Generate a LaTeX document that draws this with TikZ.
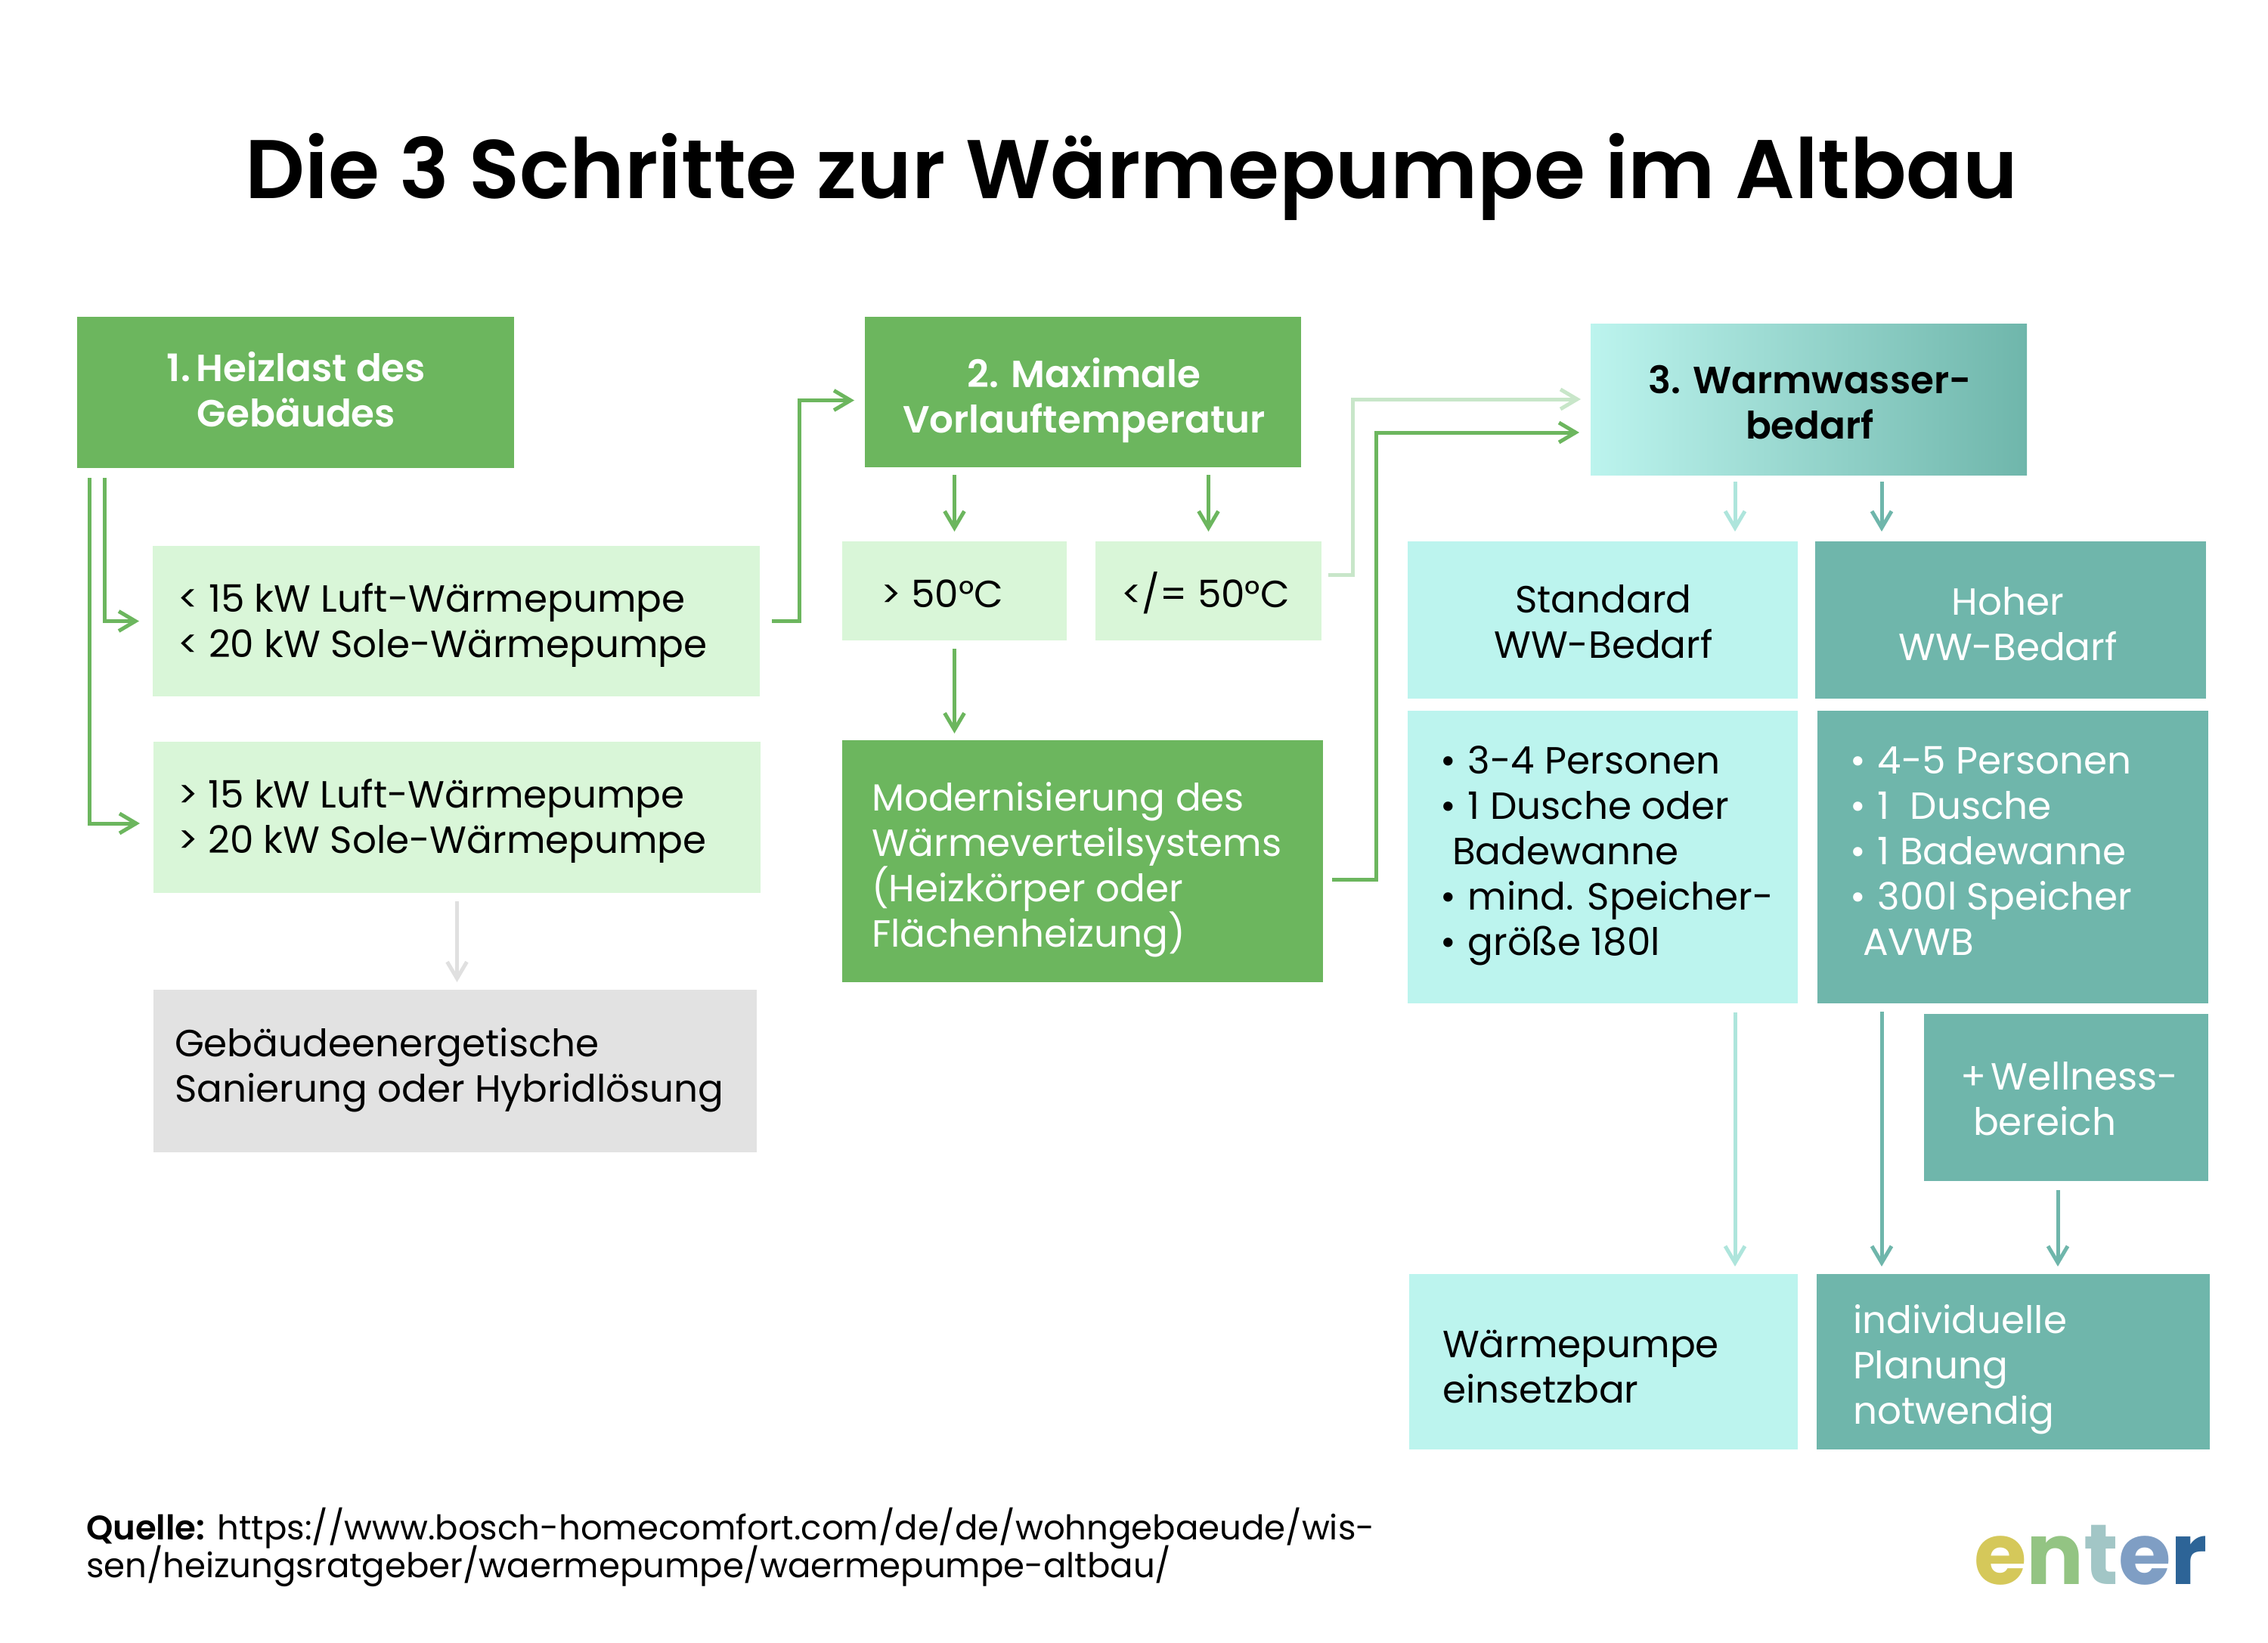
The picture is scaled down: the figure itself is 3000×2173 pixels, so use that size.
\documentclass[tikz,border=0pt]{standalone}
\usepackage{fontspec}
\setmainfont{Poppins}
\newfontfamily\psb{Poppins SemiBold}
\usetikzlibrary{arrows.meta,calc}
\definecolor{grn}{HTML}{6CB65E}
\definecolor{lgrn}{HTML}{D9F6D8}
\definecolor{aqua}{HTML}{BCF4EE}
\definecolor{teal2}{HTML}{6FB6AB}
\definecolor{gry}{HTML}{E2E2E2}
\definecolor{lconn}{HTML}{C8E6C9}
\definecolor{aconn}{HTML}{AEE5DC}
\definecolor{gconn}{HTML}{E0E0E0}
\definecolor{l1}{HTML}{D5C85A}
\definecolor{l2}{HTML}{93C483}
\definecolor{l3}{HTML}{A2C6C6}
\definecolor{l4}{HTML}{7F9EC4}
\definecolor{l5}{HTML}{2D6497}
\tikzset{
  plainbox/.style={inner sep=0pt,outer sep=0pt,font=\fontsize{25}{30}\selectfont},
  gbox/.style={plainbox,fill=grn,text=white},
  lbox/.style={plainbox,fill=lgrn,text=black},
  abox/.style={plainbox,fill=aqua,text=black},
  tbox/.style={plainbox,fill=teal2,text=white},
  greybox/.style={plainbox,fill=gry,text=black},
  gradbox/.style={plainbox,left color=aqua,right color=teal2,text=black},
  arr/.style={line width=2.5pt,-{Straight Barb[length=11pt,width=13pt,line width=2.5pt]},line join=miter},
}
\newcommand\bx[7]{%
  \pgfmathsetmacro\cx{(#3+#5)/2}\pgfmathsetmacro\cy{(#4+#6)/2}%
  \pgfmathsetmacro\bw{(#5-#3)*0.5}\pgfmathsetmacro\bh{(#6-#4)*0.5}%
  \node[#2,minimum width=\bw pt,minimum height=\bh pt] (#1) at (\cx,\cy) {#7};}
\newcommand\tl[3]{\pgfmathsetmacro\dxx{(#1-\cx)*0.5}\pgfmathsetmacro\dyy{(\cy-#2)*0.5}%
  \makebox[0pt][l]{\kern\dxx pt\raisebox{\dyy pt}[0pt][0pt]{\parbox[t]{1200pt}{\raggedright #3}}}}
\newcommand\tc[3]{\pgfmathsetmacro\dxx{(#1-\cx)*0.5-600}\pgfmathsetmacro\dyy{(\cy-#2)*0.5}%
  \makebox[0pt][l]{\kern\dxx pt\raisebox{\dyy pt}[0pt][0pt]{\parbox[t]{1200pt}{\centering #3}}}}
\newcommand\bul{\makebox[18.5pt][l]{•}}
\begin{document}
\begin{tikzpicture}[x=0.5pt,y=-0.5pt]
\useasboundingbox (0,0) rectangle (3000,2173);
\bx{title}{plainbox}{320}{150}{2680}{300}{\tc{1497}{263}{\psb\fontsize{55}{66}\selectfont Die 3 Schritte zur Wärmepumpe im Altbau}}
\bx{b1}{gbox}{102}{419}{680}{619}{\tc{392}{504}{\psb 1.\hspace{0.16em}Heizlast des\\Gebäudes}}
\bx{b2}{gbox}{1144}{419}{1721}{618}{\tc{1434}{512}{\psb 2. Maximale\\Vorlauftemperatur}}
\bx{b3}{gradbox}{2104}{428}{2681}{628}{\tc{2394}{520}{\psb 3. Warmwasser-\\bedarf}}
\bx{lt}{lbox}{202}{722}{1005}{921}{\tl{235}{809}{< 15 kW Luft-Wärmepumpe\\< 20 kW Sole-Wärmepumpe}}
\bx{gt}{lbox}{203}{981}{1006}{1181}{\tl{235}{1068}{> 15 kW Luft-Wärmepumpe\\> 20 kW Sole-Wärmepumpe}}
\bx{gray}{greybox}{203}{1309}{1001}{1524}{\tl{231}{1397}{Gebäudeenergetische\\Sanierung oder Hybridlösung}}
\bx{gfifty}{lbox}{1114}{716}{1411}{847}{\tl{1165}{803}{> 50°C}}
\bx{lfifty}{lbox}{1449}{716}{1748}{847}{\tl{1483}{803}{</= 50°C}}
\bx{mod}{gbox}{1114}{979}{1750}{1299}{\tl{1153}{1072}{Modernisierung des\\Wärmeverteilsystems\\(Heizkörper oder\\Flächenheizung)}}
\bx{std}{abox}{1862}{716}{2378}{924}{\tc{2121}{810}{Standard\\WW-Bedarf}}
\bx{hoch}{tbox}{2401}{716}{2918}{924}{\tc{2656}{813}{Hoher\\WW-Bedarf}}
\bx{stdl}{abox}{1862}{940}{2378}{1327}{\tl{1905}{1023}{\bul 3-4 Personen\\\bul 1 Dusche oder\\\hspace*{8pt}Badewanne\\\bul mind. Speicher-\\\bul größe 180l}}
\bx{hochl}{tbox}{2404}{940}{2921}{1327}{\tl{2447}{1023}{\bul 4-5 Personen\\\bul 1\ \ Dusche\\\bul 1 Badewanne\\\bul 300l Speicher\\\hspace*{8.5pt}AVWB}}
\bx{well}{tbox}{2545}{1341}{2921}{1562}{\tl{2593}{1441}{+\hspace{3.4pt}Wellness-\\\hspace*{8.5pt}bereich}}
\bx{wp}{abox}{1864}{1685}{2378}{1917}{\tl{1908}{1795}{Wärmepumpe\\einsetzbar}}
\bx{ind}{tbox}{2403}{1685}{2923}{1917}{\tl{2451}{1763}{individuelle\\Planung\\notwendig}}
\bx{quelle}{plainbox}{115}{2010}{1850}{2120}{\tl{114}{2036}{\fontsize{22.5}{25}\selectfont\lineskiplimit=-50pt{\psb Quelle:} https://www.bosch-homecomfort.com/de/de/wohngebaeude/wis-\\sen/heizungsratgeber/waermepumpe/waermepumpe-altbau/}}
\bx{logo}{plainbox}{2613}{2000}{2918}{2110}{\tl{2611}{2095}{\bfseries\fontsize{56.4}{70}\selectfont\textcolor{l1}{e}\textcolor{l2}{n}\textcolor{l3}{t}\textcolor{l4}{e}\textcolor{l5}{r}}}
% connector reference points
\coordinate (c1) at ($(b3.south)+(-48.75pt,0)$);
\coordinate (c2) at ($(b3.south)+(48.25pt,0)$);
\coordinate (c3) at ($(stdl.south)+(87.5pt,0)$);
\coordinate (c4) at ($(hochl.south)+(-86.75pt,0)$);
\coordinate (c5) at ($(well.south)+(-5.5pt,0)$);
% connectors
\draw[arr,grn] ([xshift=8pt,yshift=-6.5pt]b1.south west) |- ([xshift=-9pt,yshift=-4pt]gt.west);
\draw[arr,grn] ([xshift=18pt,yshift=-6.5pt]b1.south west) |- ([xshift=-9pt]lt.west);
\draw[arr,grn] ([xshift=8pt]lt.east) -- ++(18pt,0) |- ([xshift=-7pt,yshift=-5.5pt]b2.west);
\draw[arr,grn] ([yshift=-5pt]gfifty.north |- b2.south) -- ([yshift=6.5pt]gfifty.north);
\draw[arr,grn] ([yshift=-5pt]lfifty.north |- b2.south) -- ([yshift=6.5pt]lfifty.north);
\draw[arr,grn] ([yshift=-5.5pt]gfifty.south) -- ([yshift=4.5pt]gfifty.south |- mod.north);
\draw[arr,lconn] ([xshift=4.5pt,yshift=10.75pt]lfifty.east) -- ++(16pt,0) |- ([xshift=-6.5pt]b3.west);
\draw[arr,grn] ([xshift=6pt,yshift=-12pt]mod.east) -- ++(29pt,0) |- ([xshift=-7.5pt,yshift=-22pt]b3.west);
\draw[arr,aconn] ([yshift=-4.5pt]c1) -- ([yshift=6.5pt]c1 |- std.north);
\draw[arr,teal2] ([yshift=-4.5pt]c2) -- ([yshift=6.5pt]c2 |- hoch.north);
\draw[arr,gconn] ([yshift=-5.5pt]gt.south) -- ([yshift=5pt]gt.south |- gray.north);
\draw[arr,aconn] ([yshift=-6pt]c3) -- ([yshift=5pt]c3 |- wp.north);
\draw[arr,teal2] ([yshift=-5.5pt]c4) -- ([yshift=5pt]c4 |- ind.north);
\draw[arr,teal2] ([yshift=-6pt]c5) -- ([yshift=5pt]c5 |- ind.north);
\end{tikzpicture}
\end{document}
